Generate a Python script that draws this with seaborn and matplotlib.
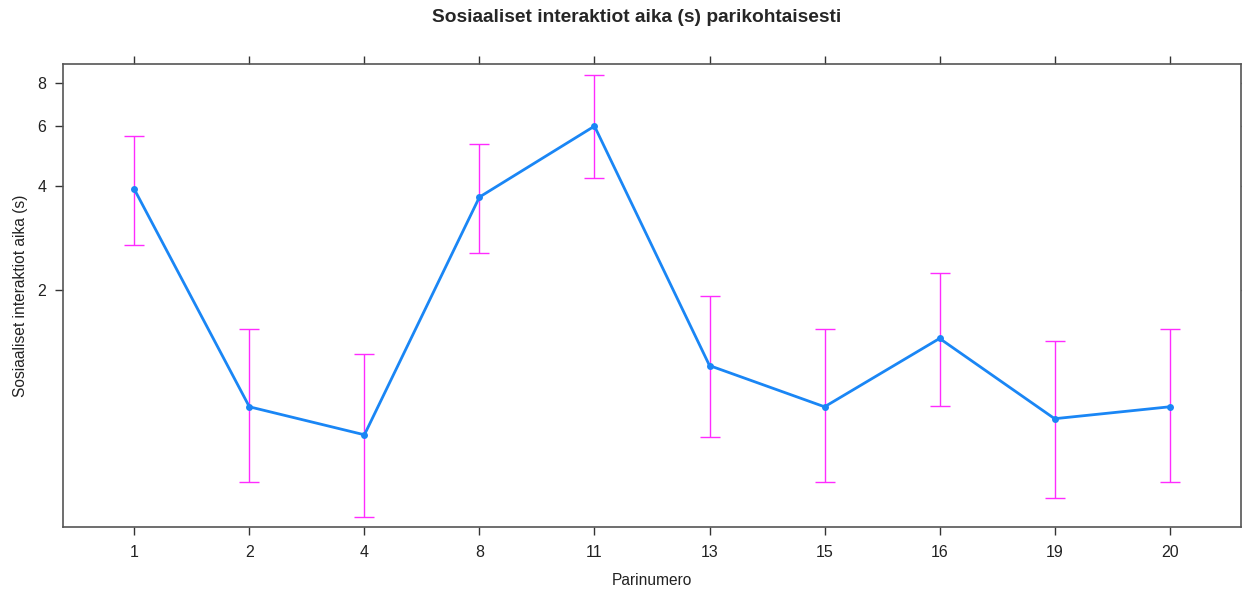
import matplotlib
matplotlib.use("Agg")
import matplotlib.pyplot as plt
import matplotlib.ticker as mticker
import numpy as np
import pandas as pd
import seaborn as sns

# Pair numbers and estimated interaction times (s) with 95 % limits
pairs = ["1", "2", "4", "8", "11", "13", "15", "16", "19", "20"]
estimate = [3.92, 0.91, 0.754, 3.72, 5.99, 1.20, 0.91, 1.44, 0.84, 0.91]
lower = [2.70, 0.549, 0.434, 2.56, 4.22, 0.745, 0.549, 0.915, 0.494, 0.549]
upper = [5.60, 1.53, 1.30, 5.31, 8.44, 1.91, 1.53, 2.24, 1.42, 1.53]
y_ticks = [2, 4, 6, 8]

df = pd.DataFrame({"pos": np.arange(len(pairs)), "pair": pairs,
                   "est": estimate, "lo": lower, "hi": upper})

sns.set_theme(style="white")
plt.rcParams["font.family"] = ["Liberation Sans", "DejaVu Sans"]

fig = plt.figure(figsize=(12.42, 5.89), dpi=100)
ax = fig.add_axes([63 / 1242, 62 / 589, (1241 - 63) / 1242, (527 - 64) / 589])

line_col = "#1a86f5"
bar_col = "#ff2bff"

ax.errorbar(df["pos"], df["est"],
            yerr=[df["est"] - df["lo"], df["hi"] - df["est"]],
            fmt="none", ecolor=bar_col, elinewidth=1.0, capsize=7,
            capthick=1.0, zorder=2)
sns.lineplot(data=df, x="pos", y="est", ax=ax, color=line_col, lw=2,
             marker="o", markersize=5, markeredgewidth=0, zorder=3)

ax.set_yscale("log")
ax.set_ylim(0.406, 9.09)
ax.set_xlim(-0.62, len(pairs) - 1 + 0.62)
ax.yaxis.set_major_locator(mticker.FixedLocator(y_ticks))
ax.yaxis.set_major_formatter(mticker.FixedFormatter([str(t) for t in y_ticks]))
ax.yaxis.set_minor_locator(mticker.NullLocator())
ax.set_xticks(df["pos"])
ax.set_xticklabels(pairs)

for s in ax.spines.values():
    s.set_color("#555555")
    s.set_linewidth(1.2)
ax.tick_params(axis="both", which="major", direction="out", length=6,
               width=1, color="#333333", labelsize=11.5, labelcolor="#222222",
               top=True, right=True, labeltop=False, labelright=False,
               left=True, bottom=True, pad=6)
ax.tick_params(axis="x", pad=7)

ax.set_xlabel("Parinumero", fontsize=11.2, color="#222222", labelpad=9)
ax.set_ylabel("Sosiaaliset interaktiot aika (s)", fontsize=11.2,
              color="#222222", labelpad=7)
fig.suptitle("Sosiaaliset interaktiot aika (s) parikohtaisesti",
             x=0.5125, y=0.985, fontsize=13.8, fontweight="bold", va="top")

fig.savefig("out.png", dpi=100, facecolor="white")
